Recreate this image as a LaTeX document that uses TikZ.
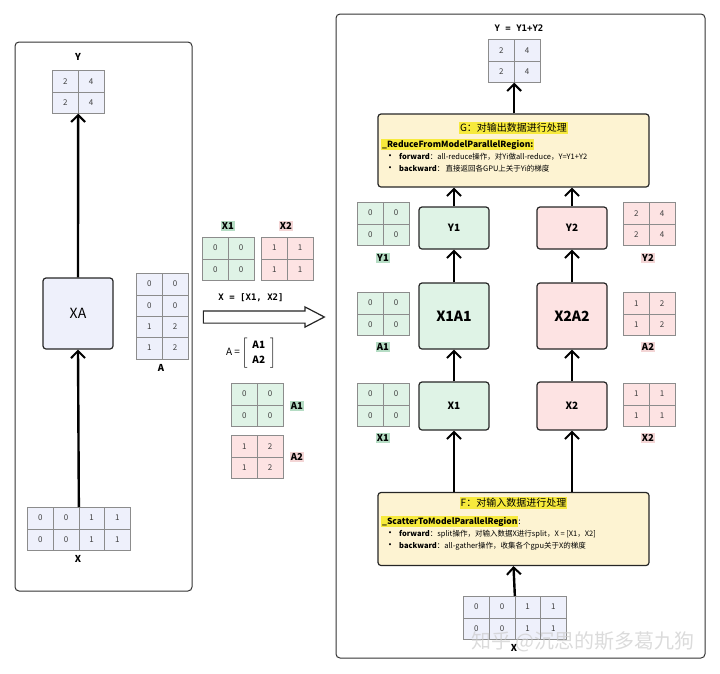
\documentclass[tikz,border=0pt]{standalone}
\usepackage{fontspec}
\setmainfont{Noto Sans CJK SC}
\newfontfamily\monofont{DejaVu Sans Mono}
\usetikzlibrary{matrix,arrows.meta,shapes.arrows}

\definecolor{lavender}{HTML}{EEF0FB}
\definecolor{mint}{HTML}{DFF3E6}
\definecolor{rose}{HTML}{FDE3E3}
\definecolor{cream}{HTML}{FDF3D2}
\definecolor{hlyellow}{HTML}{F7EA3C}
\definecolor{hlgreen}{HTML}{B5DCC4}
\definecolor{hlrose}{HTML}{F3D5D5}
\definecolor{cellline}{HTML}{8C8C8C}

\newcommand{\hl}[2]{{\setlength{\fboxsep}{1pt}\colorbox{#1}{#2}}}
\newcommand{\bul}{\hspace{4pt}{\fontsize{10}{10}\selectfont •}\hspace{4pt}}

\tikzset{
  cell/.style = {draw=cellline, minimum width=25.8pt, minimum height=21.4pt, inner sep=0pt,
                 font=\fontsize{8}{9}\selectfont, text=black!75},
  mat/.style  = {matrix of nodes, column sep=-0.5pt, row sep=-0.5pt, inner sep=0pt, anchor=north west},
  matB/.style = {mat, nodes={cell, fill=lavender}},
  matG/.style = {mat, nodes={cell, fill=mint}},
  matR/.style = {mat, nodes={cell, fill=rose}},
  lbl/.style  = {font=\fontsize{9.5}{10}\selectfont\bfseries, inner sep=0pt},
  box/.style  = {draw=black!85, line width=1.2pt, rounded corners=3pt, inner sep=0pt},
  panel/.style = {draw=black!80, line width=1pt, rounded corners=4pt},
  note/.style = {box, fill=cream, minimum width=271pt, minimum height=73pt},
  arr/.style  = {line width=2.4pt, -{Straight Barb[length=7pt, width=14pt, line width=2pt]}},
}

\begin{document}
\begin{tikzpicture}[x=1pt, y=-1pt]
\useasboundingbox (0,0) rectangle (720,673);

% left: Y = XA
\node[panel, minimum width=177pt, minimum height=549pt] (left) at (103.5,316.5) {};
\node[lbl] (lY) at (78,57) {Y};
\matrix (mY) [matB] at (52,70) {2 & 4\\ 2 & 4\\};
\node[box, fill=lavender, minimum width=70pt, minimum height=71pt, font=\fontsize{14}{16}\selectfont] (xa) at (78,313.5) {XA};
\matrix (mA) [matB] at (136,273) {0 & 0\\ 0 & 0\\ 1 & 2\\ 1 & 2\\};
\node[lbl] (lA) at (161,368) {A};
\matrix (mX) [matB] at (27,507) {0 & 0 & 1 & 1\\ 0 & 0 & 1 & 1\\};
\node[lbl] (lX) at (78,559) {X};
\draw[arr] (mX.north) -- (xa.south);
\draw[arr] (xa.north) -- (mY.south);

% middle: split X and A
\node[lbl] (lX1) at (228,226) {\hl{hlgreen}{X1}};
\matrix (mX1) [matG] at (202,237) {0 & 0\\ 0 & 0\\};
\node[lbl] (lX2) at (286,226) {\hl{hlrose}{X2}};
\matrix (mX2) [matR] at (261,237) {1 & 1\\ 1 & 1\\};
\node[font=\monofont\bfseries\fontsize{9}{10}\selectfont] (eqX) at (251,298) {X = [X1, X2]};
\node[single arrow, draw=black!85, line width=1.2pt, fill=white, minimum height=121pt,
      inner xsep=0pt, inner ysep=5.5pt, single arrow head extend=4pt,
      single arrow tip angle=55] (big) at (258,317) {};
\node[inner sep=0pt, font=\fontsize{10}{12}\selectfont] (eqA) at (251,353)
  {A =\,{\renewcommand{\arraystretch}{1.25}$\left[\begin{array}{c}\textbf{A1}\\ \textbf{A2}\end{array}\right]$}};
\matrix (mA1) [matG] at (231,383) {0 & 0\\ 0 & 0\\};
\node[lbl] (lA1) at (297,406) {\hl{hlgreen}{A1}};
\matrix (mA2) [matR] at (231,435) {1 & 2\\ 1 & 2\\};
\node[lbl] (lA2) at (297,457) {\hl{hlrose}{A2}};

% right: model parallel
\node[panel, minimum width=369pt, minimum height=644pt] (right) at (520.5,336) {};
\node[font=\monofont\bfseries\fontsize{9}{10}\selectfont] (eqY) at (519,28) {Y = Y1+Y2};
\matrix (mYr) [matB] at (488,39) {2 & 4\\ 2 & 4\\};

\node[note] (g) at (513.5,150.5) {};
\node[font=\fontsize{10}{12}\selectfont, inner sep=0pt] (gt) at (513.5,128) {\hl{hlyellow}{G：对输出数据进行处理}};
\node[anchor=north west, align=left, inner sep=0pt, font=\fontsize{7.5}{12}\selectfont] (gb) at (381,139)
  {\hl{hlyellow}{\fontsize{8.5}{10}\selectfont\bfseries\_ReduceFromModelParallelRegion:}\\
   \bul\textbf{forward}：all-reduce操作，对Yi做all-reduce，Y=Y1+Y2\\
   \bul\textbf{backward}：\,直接返回各GPU上关于Yi的梯度};

\node[box, fill=mint, minimum width=70pt, minimum height=42pt, font=\fontsize{10}{12}\selectfont\bfseries] (y1) at (454,228) {Y1};
\node[box, fill=rose, minimum width=70pt, minimum height=42pt, font=\fontsize{10}{12}\selectfont\bfseries] (y2) at (572,228) {Y2};
\node[box, fill=mint, minimum width=70pt, minimum height=66pt, font=\fontsize{14}{16}\selectfont\bfseries] (x1a1) at (454,316) {X1A1};
\node[box, fill=rose, minimum width=70pt, minimum height=66pt, font=\fontsize{14}{16}\selectfont\bfseries] (x2a2) at (572,316) {X2A2};
\node[box, fill=mint, minimum width=70pt, minimum height=48pt, font=\fontsize{10}{12}\selectfont\bfseries] (x1) at (454,406) {X1};
\node[box, fill=rose, minimum width=70pt, minimum height=48pt, font=\fontsize{10}{12}\selectfont\bfseries] (x2) at (572,406) {X2};

\matrix (mY1) [matG] at (357,202) {0 & 0\\ 0 & 0\\};
\node[lbl] (lY1) at (383,258) {\hl{hlgreen}{Y1}};
\matrix (mY2) [matR] at (623,202) {2 & 4\\ 2 & 4\\};
\node[lbl] (lY2) at (648,258) {\hl{hlrose}{Y2}};
\matrix (mA1r) [matG] at (357,292) {0 & 0\\ 0 & 0\\};
\node[lbl] (lA1r) at (383,347) {\hl{hlgreen}{A1}};
\matrix (mA2r) [matR] at (623,292) {1 & 2\\ 1 & 2\\};
\node[lbl] (lA2r) at (648,347) {\hl{hlrose}{A2}};
\matrix (mX1r) [matG] at (357,383) {0 & 0\\ 0 & 0\\};
\node[lbl] (lX1r) at (383,438) {\hl{hlgreen}{X1}};
\matrix (mX2r) [matR] at (623,383) {1 & 1\\ 1 & 1\\};
\node[lbl] (lX2r) at (648,438) {\hl{hlrose}{X2}};

\node[note] (f) at (513.5,529) {};
\node[font=\fontsize{10}{12}\selectfont, inner sep=0pt] (ft) at (513.5,503) {\hl{hlyellow}{F：对输入数据进行处理}};
\node[anchor=north west, align=left, inner sep=0pt, font=\fontsize{7.5}{12}\selectfont] (fb) at (381,516)
  {\hl{hlyellow}{\fontsize{8.5}{10}\selectfont\bfseries\_ScatterToModelParallelRegion}{\fontsize{8.5}{10}\selectfont :}\\
   \bul\textbf{forward}：split操作，对输入数据X进行split，X = [X1，X2]\\
   \bul\textbf{backward}：all-gather操作，收集各个gpu关于X的梯度};

\matrix (mXr) [matB] at (463,596) {0 & 0 & 1 & 1\\ 0 & 0 & 1 & 1\\};
\node[lbl] (lXr) at (514,648) {X};

\draw[arr] (mXr.north) -- (f.south);
\draw[arr] (f.north -| x1) -- (x1.south);
\draw[arr] (f.north -| x2) -- (x2.south);
\draw[arr] (x1) -- (x1a1);
\draw[arr] (x2) -- (x2a2);
\draw[arr] (x1a1) -- (y1);
\draw[arr] (x2a2) -- (y2);
\draw[arr] (y1.north) -- (g.south -| y1);
\draw[arr] (y2.north) -- (g.south -| y2);
\draw[arr] (g.north -| mYr) -- (mYr.south);

% watermark
\node[text=gray!40, opacity=0.7, font=\fontsize{20}{22}\selectfont] (wm) at (583,642) {知乎 @沉思的斯多葛九狗};
\end{tikzpicture}
\end{document}
